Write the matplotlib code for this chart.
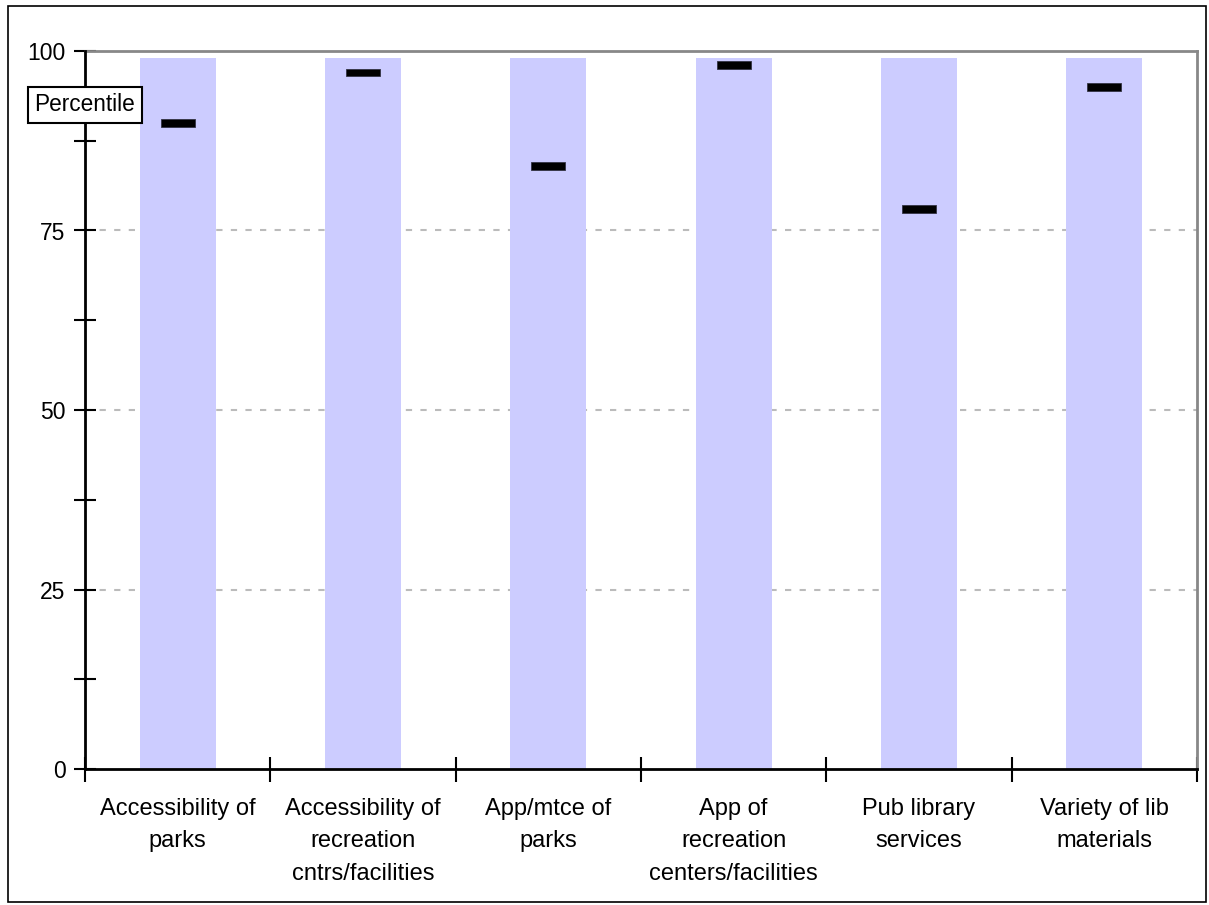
import matplotlib
matplotlib.use("Agg")
import matplotlib.pyplot as plt
from matplotlib.patches import Rectangle
from matplotlib.ticker import MultipleLocator

categories = ["Accessibility of\nparks", "Accessibility of\nrecreation\ncntrs/facilities",
              "App/mtce of\nparks", "App of\nrecreation\ncenters/facilities",
              "Pub library\nservices", "Variety of lib\nmaterials"]
bar_tops = [99, 99, 99, 99, 99, 99]
percentiles = [90, 97, 84, 98, 78, 95]
y_ticks = [0, 25, 50, 75, 100]

plt.rcParams['font.family'] = ['Liberation Sans', 'DejaVu Sans']

fig = plt.figure(figsize=(12.09, 9.05), dpi=100)
ax = fig.add_axes([85/1209, 1-769/905, (1197-85)/1209, (769-51)/905])

x = list(range(len(categories)))
ax.bar(x, bar_tops, width=0.41, color='#CCCCFF', zorder=2)
ax.bar(x, [1.1]*len(x), bottom=[v-0.55 for v in percentiles], width=0.185,
       color='black', edgecolor='#333344', linewidth=0.6, zorder=3)

ax.set_xlim(-0.5, len(categories)-0.5)
ax.set_ylim(0, 100)
ax.set_yticks(y_ticks)
ax.yaxis.set_minor_locator(MultipleLocator(12.5))
ax.set_xticks([i+0.5 for i in range(-1, len(categories))])
ax.set_xticklabels([])
ax.set_xticks(x, minor=True)
ax.set_xticklabels(categories, minor=True, fontsize=17, linespacing=1.6, va='top')
ax.tick_params(axis='x', which='minor', length=0, pad=21)
ax.tick_params(axis='x', which='major', direction='inout', length=18, width=1.5, color='black')
ax.tick_params(axis='y', which='both', direction='inout', length=16, width=1.5, color='black')
ax.tick_params(axis='y', which='major', labelsize=16.5, pad=6)

for v in y_ticks[1:-1]:
    ax.axhline(v, color='#BBBBBB', linestyle=(0, (3, 4)), linewidth=1.5, zorder=1)

for s in ['left', 'bottom']:
    ax.spines[s].set_color('black')
    ax.spines[s].set_linewidth(2)
for s in ['top', 'right']:
    ax.spines[s].set_color('#888888')
    ax.spines[s].set_linewidth(2)
ax.spines['left'].set_zorder(5)

ax.text(0, 0.925, "Percentile", transform=ax.transAxes, ha='center', va='center',
        fontsize=16.3, zorder=6,
        bbox=dict(boxstyle='square,pad=0.3', facecolor='white', edgecolor='black', linewidth=1.5))

fig.patches.append(Rectangle((8/1209, 1-902/905), (1206-8)/1209, (902-6)/905,
                             transform=fig.transFigure, fill=False,
                             edgecolor='black', linewidth=1.2))

fig.savefig("out.png", dpi=100)
